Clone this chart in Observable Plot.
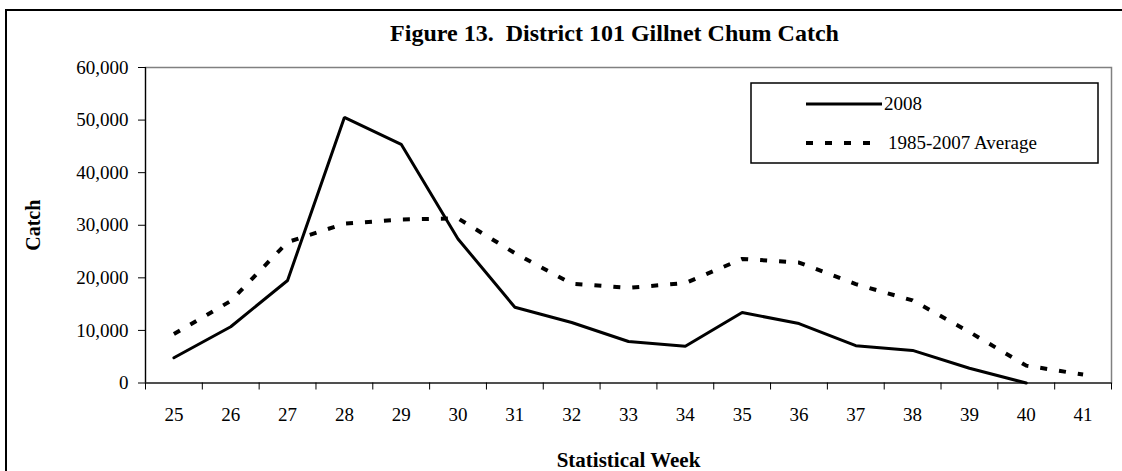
<!DOCTYPE html>
<html>
<head>
<meta charset="utf-8">
<script src="https://cdn.jsdelivr.net/npm/d3@7"></script>
<script src="https://cdn.jsdelivr.net/npm/@observablehq/plot@0.6"></script>
<style>
  html, body { margin: 0; padding: 0; background: #fff; overflow: hidden; }
  #wrap { position: relative; width: 1122px; height: 471px; overflow: hidden; font-family: "Liberation Serif", "Times New Roman", serif; }
  #wrap > * { position: absolute; left: 0; top: 0; }
  #outer { left: 5px !important; top: 9px !important; width: 1140px; height: 500px; border: 2px solid #000; box-sizing: border-box; pointer-events: none; }
</style>
</head>
<body>
<div id="wrap"><div id="outer"></div></div>
<script>
const weeks = [25, 26, 27, 28, 29, 30, 31, 32, 33, 34, 35, 36, 37, 38, 39, 40, 41];
const weeks2008 = [25, 26, 27, 28, 29, 30, 31, 32, 33, 34, 35, 36, 37, 38, 39, 40];
const catch2008 = [4800, 10700, 19500, 50500, 45400, 27400, 14400, 11500, 7900, 7000, 13400, 11300, 7100, 6200, 2800, 0];
const catchAvg = [9300, 15600, 26800, 30300, 31100, 31300, 24700, 18900, 18100, 19000, 23600, 22900, 18800, 15700, 9700, 3300, 1600];
const yTicks = [0, 10000, 20000, 30000, 40000, 50000, 60000];
const seriesNames = ["2008", "1985-2007 Average"];
const titleText = "Figure 13.  District 101 Gillnet Chum Catch";
const xTitle = "Statistical Week";
const yTitle = "Catch";

const data2008 = weeks2008.map((w, i) => ({week: w, value: catch2008[i]}));
const dataAvg = weeks.map((w, i) => ({week: w, value: catchAvg[i]}));
const boundaries = d3.range(weeks[0] - 0.5, weeks[weeks.length - 1] + 1, 1);

const font = '"Liberation Serif", "Times New Roman", serif';

const chart = Plot.plot({
  width: 1122,
  height: 471,
  marginLeft: 145,
  marginRight: 11,
  marginTop: 67,
  marginBottom: 88.5,
  x: {domain: [weeks[0] - 0.5, weeks[weeks.length - 1] + 0.5]},
  y: {domain: [0, 60000]},
  style: {fontFamily: font, fontSize: "19px", color: "#000", background: "transparent", overflow: "visible"},
  marks: [
    Plot.frame({stroke: "#808080", strokeWidth: 1.5}),
    Plot.axisY({ticks: yTicks, tickSize: 7, tickPadding: 10, tickFormat: d3.format(","), label: null, fontSize: 19, stroke: "#000"}),
    Plot.axisX({ticks: boundaries, tickSize: 7, tickFormat: () => "", label: null, stroke: "#000"}),
    Plot.axisX({ticks: weeks, tickSize: 0, tickPadding: 24, tickFormat: d => String(d), label: null, fontSize: 19}),
    Plot.ruleY([0], {stroke: "#000", strokeWidth: 1.2}),
    Plot.ruleX([weeks[0] - 0.5], {stroke: "#000", strokeWidth: 1.2}),
    Plot.line(dataAvg, {x: "week", y: "value", stroke: "#000", strokeWidth: 4, strokeDasharray: "7,12", strokeLinecap: "butt"}),
    Plot.line(data2008, {x: "week", y: "value", stroke: "#000", strokeWidth: 3, strokeLinejoin: "miter"}),
    Plot.text([yTitle], {frameAnchor: "left", dx: -112, rotate: -90, textAnchor: "middle", lineAnchor: "middle", fontWeight: "bold", fontSize: 20, text: d => d}),
    Plot.text([xTitle], {frameAnchor: "bottom", dy: 77, textAnchor: "middle", lineAnchor: "middle", fontWeight: "bold", fontSize: 21, text: d => d}),
    Plot.text([titleText], {frameAnchor: "top", dy: -34, dx: -14, textAnchor: "middle", lineAnchor: "middle", fontWeight: "bold", fontSize: 24, text: d => d})
  ]
});

const wrap = document.getElementById("wrap");
wrap.insertBefore(chart, wrap.firstChild);

// legend
const ns = "http://www.w3.org/2000/svg";
const leg = document.createElementNS(ns, "svg");
leg.setAttribute("width", 1122);
leg.setAttribute("height", 471);
leg.style.fontFamily = font;
function el(tag, attrs, text) {
  const e = document.createElementNS(ns, tag);
  for (const k in attrs) e.setAttribute(k, attrs[k]);
  if (text) e.textContent = text;
  leg.appendChild(e);
  return e;
}
el("rect", {x: 751, y: 83, width: 347, height: 80, fill: "#fff", stroke: "#000", "stroke-width": 1.5});
el("line", {x1: 806, x2: 882, y1: 104, y2: 104, stroke: "#000", "stroke-width": 3});
el("text", {x: 884, y: 110, "font-size": 19, fill: "#000"}, seriesNames[0]);
el("line", {x1: 806, x2: 874, y1: 143, y2: 143, stroke: "#000", "stroke-width": 4, "stroke-dasharray": "7,12"});
el("text", {x: 888, y: 149, "font-size": 19, fill: "#000"}, seriesNames[1]);
wrap.appendChild(leg);
</script>
</body>
</html>
